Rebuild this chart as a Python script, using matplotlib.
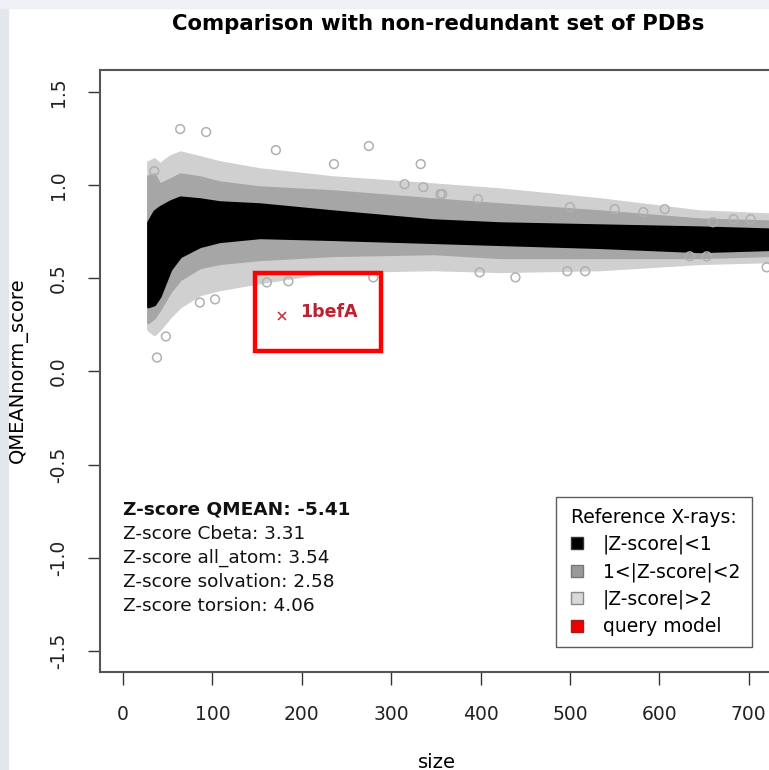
#!/usr/bin/env python
# QMEAN comparison plot: query model against reference X-ray structures

import matplotlib
matplotlib.use('Agg')
import matplotlib.pyplot as plt
from matplotlib.lines import Line2D
from matplotlib.patches import Rectangle
import numpy as np

plt.rcParams['font.family'] = ['DejaVu Sans']

## reference cloud, band edges (size vs QMEANnorm_score)
size_pts = [28, 35, 41, 53, 64, 86, 108, 153, 235, 347, 422, 534, 645, 723]
light_hi = [1.124, 1.140, 1.113, 1.156, 1.177, 1.151, 1.124, 1.086, 1.043, 1.005, 0.978, 0.925, 0.860, 0.844]
gray_hi  = [1.048, 1.059, 1.005, 1.032, 1.059, 1.043, 1.016, 0.989, 0.968, 0.925, 0.898, 0.860, 0.817, 0.806]
black_hi = [0.801, 0.860, 0.882, 0.914, 0.935, 0.925, 0.909, 0.898, 0.860, 0.812, 0.796, 0.785, 0.774, 0.763]
black_lo = [0.349, 0.360, 0.403, 0.548, 0.618, 0.672, 0.699, 0.720, 0.710, 0.694, 0.683, 0.667, 0.645, 0.656]
gray_lo  = [0.263, 0.290, 0.333, 0.430, 0.495, 0.559, 0.581, 0.602, 0.624, 0.634, 0.613, 0.613, 0.613, 0.624]
light_lo = [0.226, 0.199, 0.226, 0.296, 0.349, 0.414, 0.441, 0.478, 0.538, 0.548, 0.538, 0.548, 0.581, 0.591]

# isolated reference structures (|Z-score|>2) outside the bands
out_size  = [64, 93, 171, 236, 38, 48, 161, 185, 35, 315, 439, 550, 606, 582, 634,
             653, 720, 497, 517, 399, 355, 397, 500, 683, 702, 660, 280, 336, 357,
             86, 103, 275, 333]
out_score = [1.301, 1.285, 1.188, 1.113, 0.075, 0.188, 0.478, 0.484, 1.075, 1.005,
             0.505, 0.871, 0.871, 0.855, 0.618, 0.618, 0.559, 0.538, 0.538, 0.532,
             0.952, 0.925, 0.882, 0.817, 0.817, 0.801, 0.505, 0.989, 0.952,
             0.370, 0.387, 1.210, 1.113]

# query model
query_name = '1befA'
query_size = 178
query_score = 0.30
zscores = [('Z-score QMEAN', -5.41), ('Z-score Cbeta', 3.31), ('Z-score all_atom', 3.54),
           ('Z-score solvation', 2.58), ('Z-score torsion', 4.06)]

c_black = '#000000'
c_gray = '#a6a6a6'
c_light = '#d0d0d0'

fig = plt.figure(figsize=(7.69, 7.70), dpi=100)
# light frame of the screenshot
fig.patches.append(Rectangle((0, 0), 8/769, 1, transform=fig.transFigure, color='#e3e6eb', zorder=0))
fig.patches.append(Rectangle((0, 1-8/770), 1, 8/770, transform=fig.transFigure, color='#eef0f3', zorder=0))

ax = fig.add_axes([100/769, 98/770, 685/769, 602/770])
ax.set_xlim(-25.7, 740.5)
ax.set_ylim(-1.613, 1.618)

ax.fill_between(size_pts, light_lo, light_hi, color=c_light, lw=2, zorder=1)
ax.fill_between(size_pts, gray_lo, gray_hi, color=c_gray, lw=2, zorder=2)
ax.fill_between(size_pts, black_lo, black_hi, color=c_black, lw=2, zorder=3)
ax.scatter(out_size, out_score, s=40, facecolors='none', edgecolors='#b0b0b0', linewidths=1.1, zorder=4)

# query point and highlight box
ax.plot([query_size], [query_score], 'x', color='#cc3344', ms=6, mew=1.2, zorder=5)
ax.text(query_size + 20, query_score + 0.02, query_name, color='#bb2233', fontsize=12.5,
        fontweight='bold', va='center', ha='left', zorder=5)
ax.add_patch(Rectangle((147.6, 0.108), 141.0, 0.419, fill=False, ec='#ff0000', lw=3.2, zorder=5))

# z-score summary
for i, (lab, val) in enumerate(zscores):
  ax.text(0.0, -0.742 - i*0.129, '%s: %.2f' % (lab, val), fontsize=13.3,
          fontweight='bold' if i == 0 else 'normal', va='center', ha='left', color='#111111')

handles = [Line2D([], [], ls='', marker='s', ms=9, mfc=c_black, mec='#333333'),
           Line2D([], [], ls='', marker='s', ms=9, mfc='#999999', mec='#777777'),
           Line2D([], [], ls='', marker='s', ms=9, mfc='#d8d8d8', mec='#888888'),
           Line2D([], [], ls='', marker='s', ms=9, mfc='#ee0000', mec='#992222')]
leg = ax.legend(handles, ['|Z-score|<1', '1<|Z-score|<2', '|Z-score|>2', 'query model'],
                title='Reference X-rays:', loc='upper left', bbox_to_anchor=(0.666, 0.291),
                fontsize=13.5, title_fontsize=13.5, frameon=True, fancybox=False,
                edgecolor='#333333', handlelength=1.0, handletextpad=0.9, labelspacing=0.42,
                borderpad=0.6, borderaxespad=0)
leg.get_frame().set_linewidth(1.0)

ax.set_xticks(np.arange(0, 701, 100))
ax.set_yticks([-1.5, -1.0, -0.5, 0.0, 0.5, 1.0, 1.5])
ax.set_yticklabels(['-1.5', '-1.0', '-0.5', '0.0', '0.5', '1.0', '1.5'], rotation=90, va='center')
ax.tick_params(direction='out', length=9, width=1.0, color='#333333', labelsize=13.5,
               labelcolor='#222222', top=False, right=False)
ax.tick_params(axis='x', pad=15)
ax.tick_params(axis='y', pad=14)
for sp in ax.spines.values():
  sp.set_color('#555555')
  sp.set_linewidth(1.5)

fig.text(438/769, 1-24/770, 'Comparison with non-redundant set of PDBs', ha='center', va='center',
         fontsize=15.3, fontweight='bold')
fig.text(18/769, 1-370/770, 'QMEANnorm_score', rotation=90, ha='center', va='center', fontsize=14)
fig.text(437/769, 1-762/770, 'size', ha='center', va='center', fontsize=14)

fig.savefig('out.png', dpi=100)
